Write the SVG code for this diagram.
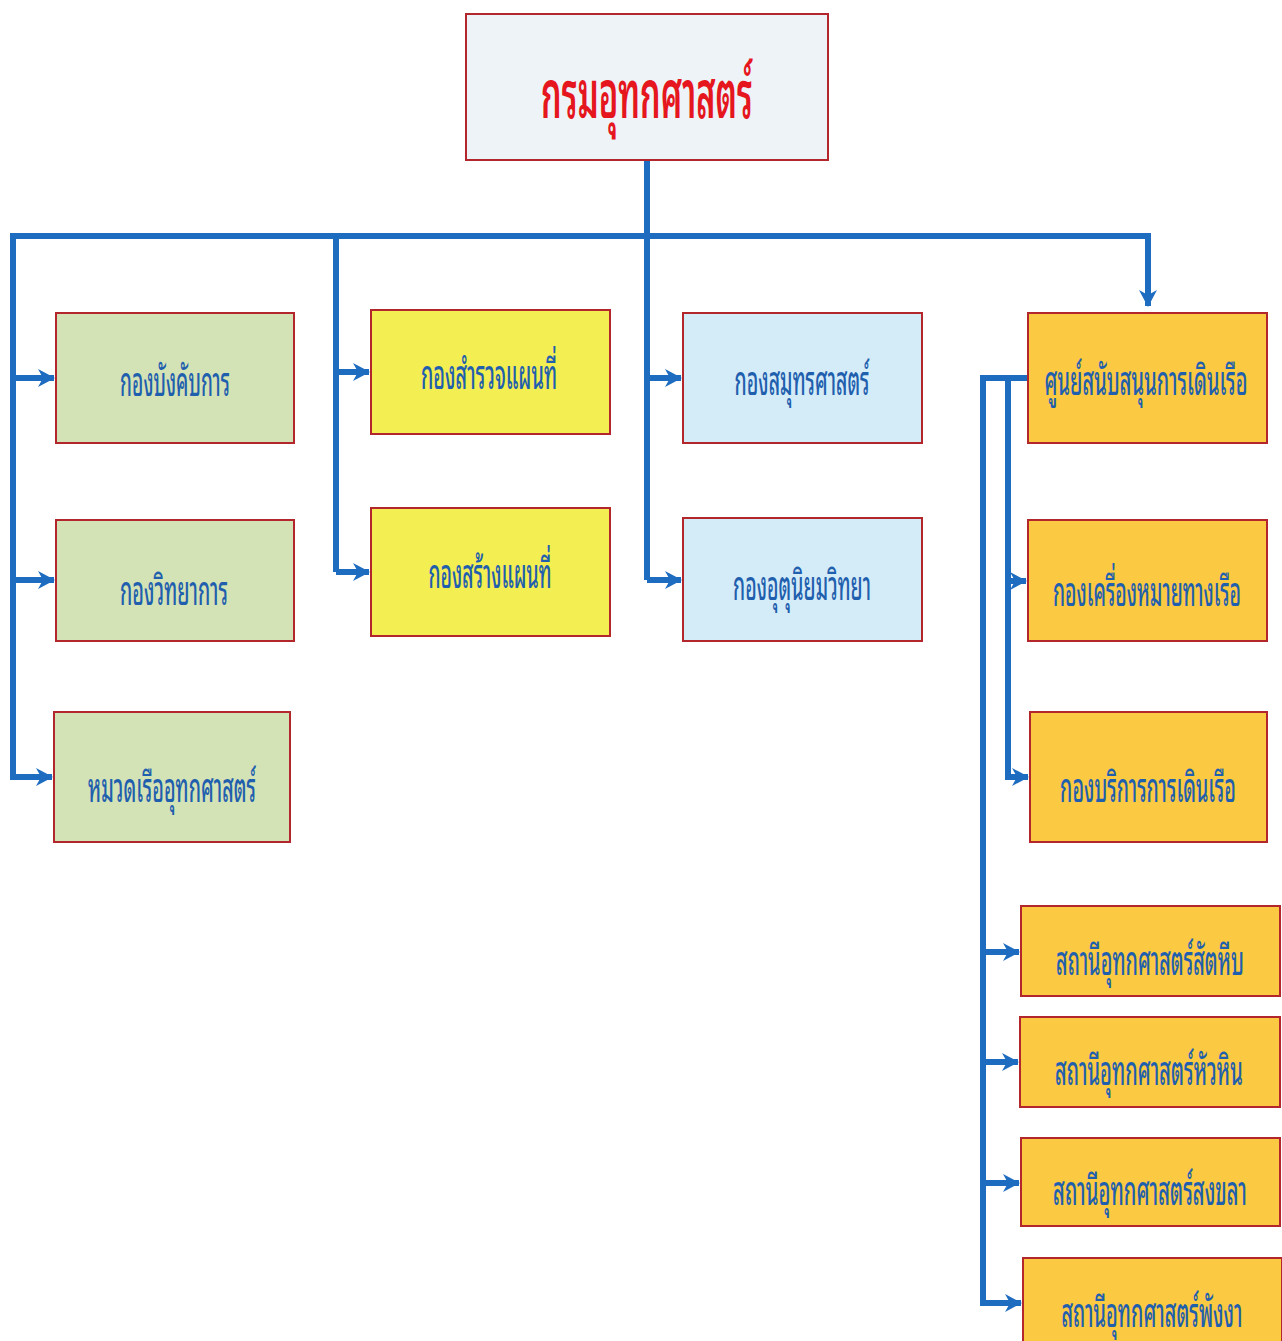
<svg xmlns="http://www.w3.org/2000/svg" width="1282" height="1341" viewBox="0 0 1282 1341">
<defs>
<marker id="ah" markerUnits="userSpaceOnUse" markerWidth="18" markerHeight="20" refX="16" refY="10" orient="auto">
<path d="M0,1 L17,10 L0,19 L5,10 Z" fill="#1d6cc0"/>
</marker>
<style>
.ln{fill:none;stroke:#1d6cc0;stroke-width:6;stroke-linejoin:miter;stroke-linecap:butt}
.ar{marker-end:url(#ah)}
.bx{stroke:#b3262c;stroke-width:2}
.g{fill:#d4e3b6}
.y{fill:#f3ee52}
.b{fill:#d4ecf8}
.o{fill:#fbca42}
.t{font-family:"Noto Sans Thai Looped","Loma","Garuda","Norasi","Noto Sans","Noto Sans Thai",sans-serif;font-size:40px;font-weight:500;fill:#1f5fae;text-anchor:middle}
.tt{font-family:"Noto Sans Thai Looped","Loma","Garuda","Norasi","Noto Sans","Noto Sans Thai",sans-serif;font-size:66px;font-weight:600;fill:#e5161d;text-anchor:middle}
</style>
</defs>
<rect width="1282" height="1341" fill="#ffffff"/>
<g id="connectors">
<path class="ln" d="M647,160 V580"/>
<path class="ln" d="M13,780 V236 H1148 V306" marker-end="url(#ah)"/>
<path class="ln" d="M336,236 V572"/>
<path class="ln ar" d="M13,378 H54"/>
<path class="ln ar" d="M13,580 H54"/>
<path class="ln ar" d="M13,777 H52"/>
<path class="ln ar" d="M336,372 H369"/>
<path class="ln ar" d="M336,572 H369"/>
<path class="ln ar" d="M647,378 H681"/>
<path class="ln ar" d="M647,580 H681"/>
<path class="ln" d="M1028,378 H983 V1306"/>
<path class="ln" d="M1008,378 V780"/>
<path class="ln ar" d="M1008,581 H1026"/>
<path class="ln ar" d="M1008,777 H1028"/>
<path class="ln ar" d="M983,952 H1019"/>
<path class="ln ar" d="M983,1062 H1018"/>
<path class="ln ar" d="M983,1183 H1019"/>
<path class="ln ar" d="M983,1303 H1021"/>
</g>
<g id="n-root"><rect class="bx" x="466" y="14" width="362" height="146" fill="#eef3f8"/><text class="tt" transform="translate(647 118) scale(0.6 1)" textLength="353" lengthAdjust="spacingAndGlyphs">กรมอุทกศาสตร์</text></g>
<g id="n-g1"><rect class="bx g" x="56" y="313" width="238" height="130"/><text class="t" transform="translate(175 396) scale(0.6 1)" textLength="183" lengthAdjust="spacingAndGlyphs">กองบังคับการ</text></g>
<g id="n-g2"><rect class="bx g" x="56" y="520" width="238" height="121"/><text class="t" transform="translate(174 605) scale(0.6 1)" textLength="180" lengthAdjust="spacingAndGlyphs">กองวิทยาการ</text></g>
<g id="n-g3"><rect class="bx g" x="54" y="712" width="236" height="130"/><text class="t" transform="translate(172 802) scale(0.6 1)" textLength="280" lengthAdjust="spacingAndGlyphs">หมวดเรืออุทกศาสตร์</text></g>
<g id="n-y1"><rect class="bx y" x="371" y="310" width="239" height="124"/><text class="t" transform="translate(489 389) scale(0.6 1)" textLength="227" lengthAdjust="spacingAndGlyphs">กองสำรวจแผนที่</text></g>
<g id="n-y2"><rect class="bx y" x="371" y="508" width="239" height="128"/><text class="t" transform="translate(490 588) scale(0.6 1)" textLength="205" lengthAdjust="spacingAndGlyphs">กองสร้างแผนที่</text></g>
<g id="n-b1"><rect class="bx b" x="683" y="313" width="239" height="130"/><text class="t" transform="translate(802 395) scale(0.6 1)" textLength="225" lengthAdjust="spacingAndGlyphs">กองสมุทรศาสตร์</text></g>
<g id="n-b2"><rect class="bx b" x="683" y="518" width="239" height="123"/><text class="t" transform="translate(802 600) scale(0.6 1)" textLength="230" lengthAdjust="spacingAndGlyphs">กองอุตุนิยมวิทยา</text></g>
<g id="n-o1"><rect class="bx o" x="1028" y="313" width="239" height="130"/><text class="t" transform="translate(1146 395) scale(0.5 1)" textLength="406" lengthAdjust="spacingAndGlyphs">ศูนย์สนับสนุนการเดินเรือ</text></g>
<g id="n-o2"><rect class="bx o" x="1028" y="520" width="239" height="121"/><text class="t" transform="translate(1147 606) scale(0.5 1)" textLength="376" lengthAdjust="spacingAndGlyphs">กองเครื่องหมายทางเรือ</text></g>
<g id="n-o3"><rect class="bx o" x="1030" y="712" width="237" height="130"/><text class="t" transform="translate(1148 802) scale(0.6 1)" textLength="293" lengthAdjust="spacingAndGlyphs">กองบริการการเดินเรือ</text></g>
<g id="n-s1"><rect class="bx o" x="1021" y="906" width="259" height="90"/><text class="t" transform="translate(1150 975) scale(0.6 1)" textLength="313" lengthAdjust="spacingAndGlyphs">สถานีอุทกศาสตร์สัตหีบ</text></g>
<g id="n-s2"><rect class="bx o" x="1020" y="1017" width="260" height="90"/><text class="t" transform="translate(1149 1085) scale(0.6 1)" textLength="313" lengthAdjust="spacingAndGlyphs">สถานีอุทกศาสตร์หัวหิน</text></g>
<g id="n-s3"><rect class="bx o" x="1021" y="1138" width="259" height="88"/><text class="t" transform="translate(1150 1205) scale(0.6 1)" textLength="323" lengthAdjust="spacingAndGlyphs">สถานีอุทกศาสตร์สงขลา</text></g>
<g id="n-s4"><rect class="bx o" x="1023" y="1258" width="259" height="90"/><text class="t" transform="translate(1152 1327) scale(0.6 1)" textLength="302" lengthAdjust="spacingAndGlyphs">สถานีอุทกศาสตร์พังงา</text></g>
</svg>
